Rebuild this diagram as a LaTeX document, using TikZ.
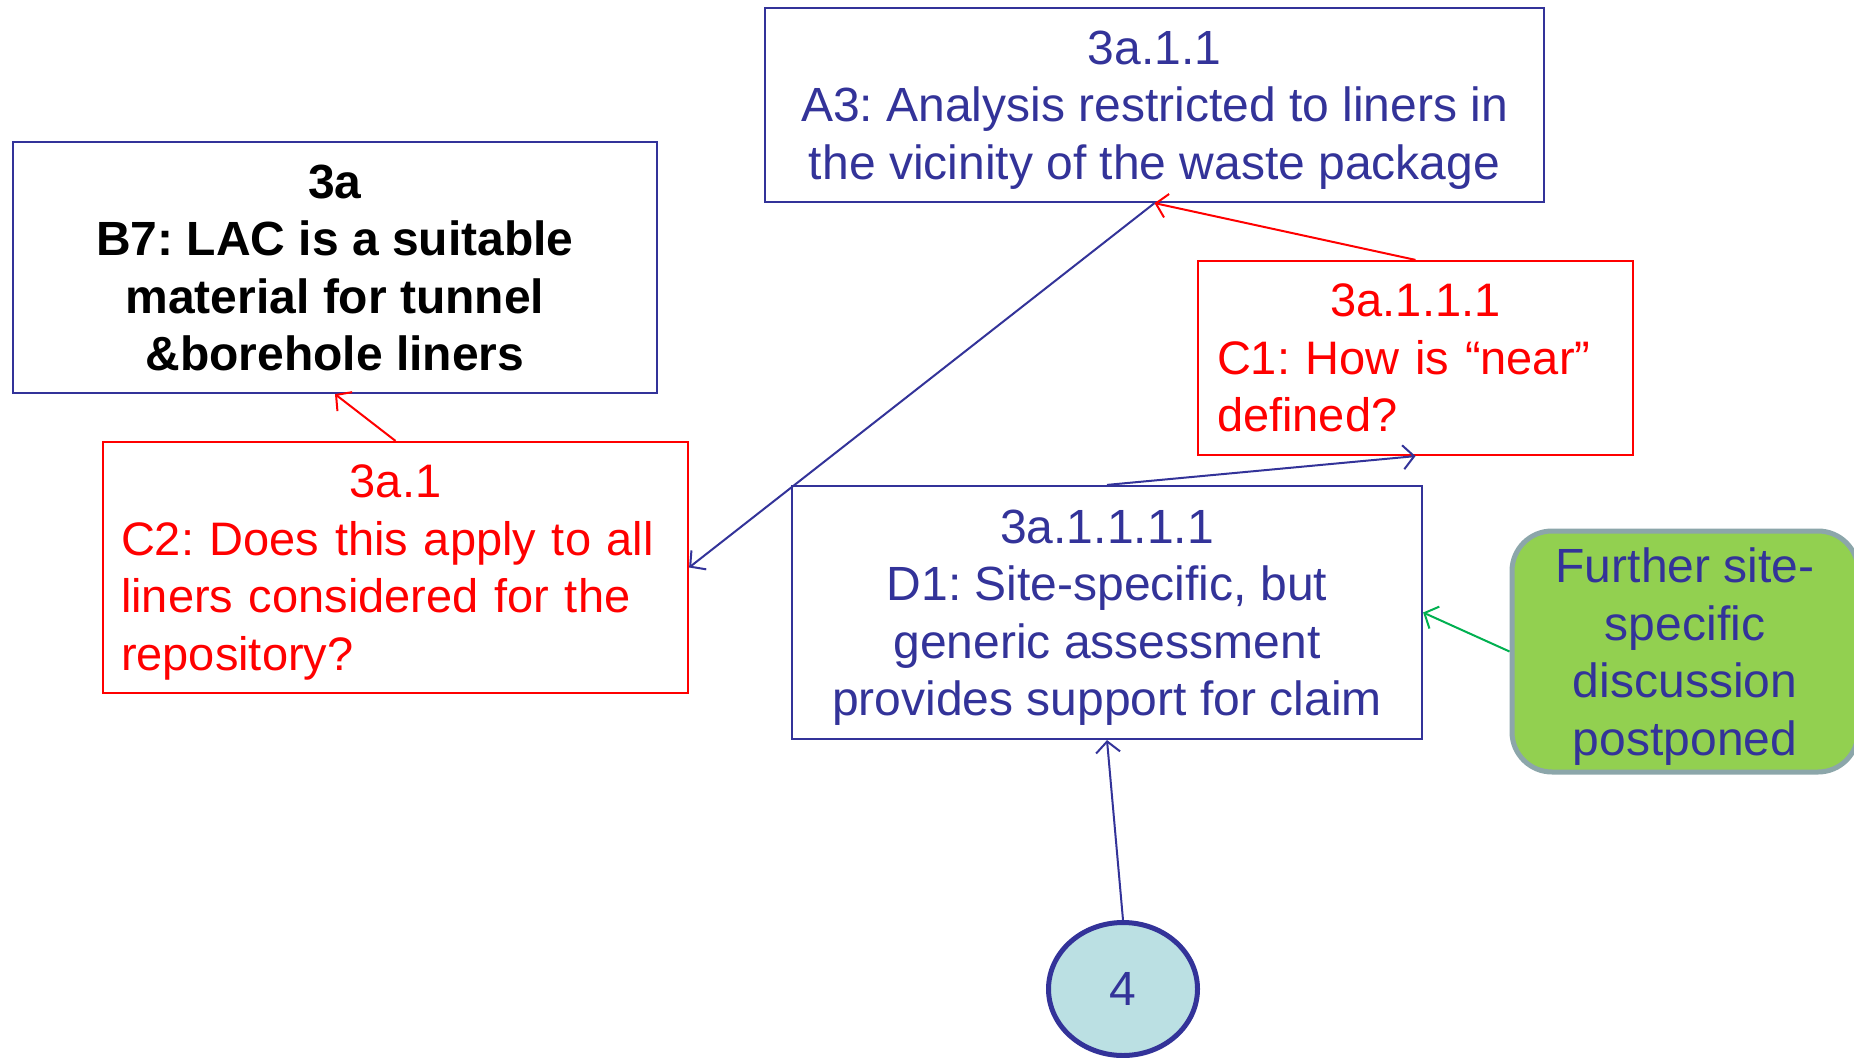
\documentclass[tikz,border=0pt]{standalone}
\usepackage{fontspec}
\setmainfont{Liberation Sans}
\frenchspacing
\usetikzlibrary{arrows.meta,shapes.geometric}
\definecolor{GoalNavy}     {RGB}{ 51,  51, 153}
\definecolor{ChallengeRed} {RGB}{255,   0,   0}
\definecolor{PostponeGreen}{RGB}{146, 208,  80}
\definecolor{PostponeEdge} {RGB}{140, 166, 170}
\definecolor{LinkGreen}    {RGB}{  0, 176,  80}
\definecolor{OffPageFill}  {RGB}{187, 224, 227}

\begin{document}
\begin{tikzpicture}[x=1pt,y=-1pt,
    every node/.style={inner sep=0pt, font=\fontsize{48}{57.5}\selectfont},
    claimbox/.style={draw=GoalNavy, line width=2.2pt, text=GoalNavy, align=center, text depth=0pt},
    challengebox/.style={draw=ChallengeRed, line width=2.2pt, text=ChallengeRed, align=left,
      font=\fontsize{47}{57.5}\selectfont},
    link/.style={line width=2pt, -{Straight Barb[length=11pt,width=24pt]}}]
  \fill[white] (0,0) rectangle (1854,1057);
  \useasboundingbox (0,0) rectangle (1854,1057);
  \clip (0,0) rectangle (1854,1057);
  % claim boxes
  \node[claimbox, text=black, font=\fontsize{48}{57.5}\selectfont\bfseries,
        minimum width=644pt, minimum height=251pt] (b7) at (335,267.5)
    {3a\\B7: LAC is a suitable\\material for tunnel\\\&borehole liners};
  \node[claimbox, minimum width=779pt, minimum height=194pt] (a3) at (1154.5,105)
    {3a.1.1\\A3: Analysis restricted to liners in\\the vicinity of the waste package};
  \node[claimbox, minimum width=630pt, minimum height=253pt] (d1) at (1107,612.5)
    {3a.1.1.1.1\\D1: Site-specific, but\\generic assessment\\provides support for claim};
  % challenges
  \node[challengebox, minimum width=585pt, minimum height=251pt, text width=549pt]
    (c2) at (395.5,567.5)
    {{\centering 3a.1\par}C2: Does this apply to all\\liners considered for the\\\smash{repository?}};
  \node[challengebox, minimum width=435pt, minimum height=194pt, text width=397pt]
    (c1) at (1415.5,358)
    {{\centering 3a.1.1.1\par}C1: How is “near”\\defined?};
  % postponed and off-page
  \node[draw=PostponeEdge, line width=5pt, fill=PostponeGreen, rounded corners=40pt,
        text=GoalNavy, align=center, text depth=0pt, minimum width=346pt, minimum height=241pt]
    (pp) at (1685,651.5) {Further site-\\specific\\discussion\\postponed};
  \node[ellipse, draw=GoalNavy, line width=5pt, fill=OffPageFill, text=GoalNavy,
        minimum width=149pt, minimum height=133pt] (off4) at (1123,989) {4};
  % connectors
  \draw[link, ChallengeRed] (c2.north) -- (b7.south);
  \draw[link, GoalNavy] (a3.south) -- (c2.east);
  \draw[link, ChallengeRed] (c1.north) -- (a3.south);
  \draw[link, GoalNavy] (d1.north) -- (c1.south);
  \draw[link, LinkGreen] (pp.west) -- (d1.east);
  \draw[link, GoalNavy] (off4.north) -- (d1.south);
\end{tikzpicture}
\end{document}
